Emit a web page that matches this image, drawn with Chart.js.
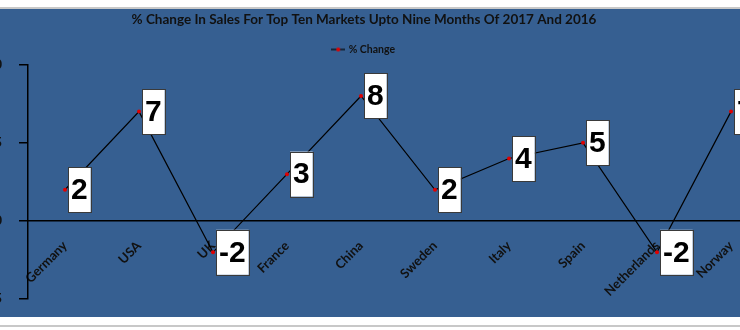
<!DOCTYPE html>
<html>
<head>
<meta charset="utf-8">
<script src="https://cdn.jsdelivr.net/npm/chart.js@4.4.1/dist/chart.umd.min.js"></script>
<style>
  body { margin: 0; background: #fff; width: 740px; height: 330px; overflow: hidden; position: relative; }
  #topline { position: absolute; left: 0; top: 7px; width: 740px; height: 2px; background: #c8c8c8; }
  #panel { position: absolute; left: 0; top: 9px; width: 740px; height: 308px; background: #365F91; overflow: hidden; }
  #myChart { position: absolute; left: -40px; top: 0; }
  #botline { position: absolute; left: 0; top: 325px; width: 740px; height: 2px; background: #c8c8c8; }
</style>
</head>
<body>
<div id="topline"></div>
<div id="panel"><canvas id="myChart" width="820" height="315"></canvas></div>
<div id="botline"></div>
<script>
// data
var markets = ['Germany', 'USA', 'UK', 'France', 'China', 'Sweden', 'Italy', 'Spain', 'Netherlands', 'Norway'];
var pctChange = [2, 7, -2, 3, 8, 2, 4, 5, -2, 7];
var yTicks = [-5, 0, 5, 10];

// little line + red dot for the legend
var marker = document.createElement('canvas');
marker.width = 14; marker.height = 6;
var mctx = marker.getContext('2d');
mctx.strokeStyle = '#000'; mctx.lineWidth = 1.2;
mctx.beginPath(); mctx.moveTo(0, 3); mctx.lineTo(14, 3); mctx.stroke();
mctx.fillStyle = '#e00000';
mctx.beginPath(); mctx.arc(7, 3, 2, 0, Math.PI * 2); mctx.fill();

// white boxed value labels to the right of each point
var boxLabels = {
    id: 'boxLabels',
    afterDatasetsDraw: function(chart) {
        var ctx = chart.ctx;
        var meta = chart.getDatasetMeta(0);
        ctx.save();
        ctx.font = 'bold 30px "Liberation Sans", Arial, sans-serif';
        ctx.textBaseline = 'middle';
        meta.data.forEach(function(pt, i) {
            var txt = String(pctChange[i]);
            var w = ctx.measureText(txt).width + 6;
            var h = 45;
            var x = pt.x + 3, y = pt.y - h / 2;
            ctx.fillStyle = '#fff';
            ctx.fillRect(x, y, w, h);
            ctx.strokeStyle = '#3a3a3a';
            ctx.lineWidth = 1;
            ctx.strokeRect(Math.round(x) + 0.5, Math.round(y) + 0.5, Math.round(w), h);
            ctx.fillStyle = '#000';
            ctx.textAlign = 'center';
            ctx.fillText(txt, x + w / 2, pt.y + 1);
        });
        ctx.restore();
    }
};

Chart.defaults.color = '#111';
Chart.defaults.font.family = 'Lato, "Open Sans", sans-serif';

var ctx1 = document.getElementById('myChart').getContext('2d');
var myChart = new Chart(ctx1, {
    type: 'line',
    data: {
        labels: markets,
        datasets: [{
            label: '% Change',
            data: pctChange,
            borderColor: '#000',
            borderWidth: 1.2,
            tension: 0,
            pointRadius: 2,
            pointBorderWidth: 0,
            pointBackgroundColor: '#e00000',
            clip: false
        }]
    },
    options: {
        responsive: false,
        animation: false,
        events: [],
        layout: { padding: { top: 0, right: 12, bottom: 0, left: 0 } },
        scales: {
            x: {
                position: { y: 0 },
                offset: true,
                grid: { display: false, drawTicks: false },
                border: { display: true, color: '#000', width: 1.5 },
                ticks: {
                    color: '#111',
                    font: { size: 13, weight: 'bold' },
                    minRotation: 45,
                    maxRotation: 45,
                    autoSkip: false,
                    padding: 17
                },
                afterFit: function(scale) { scale.height = 0; }
            },
            y: {
                min: -5,
                max: 10,
                afterBuildTicks: function(scale) {
                    scale.ticks = yTicks.map(function(v) { return { value: v }; });
                },
                grid: { drawOnChartArea: false, drawTicks: true, tickLength: 9, color: '#000', lineWidth: 1.5 },
                border: { display: true, color: '#000', width: 1.5 },
                ticks: {
                    color: '#111',
                    font: { size: 13, weight: 'bold' },
                    padding: 17
                },
                afterFit: function(scale) { scale.width = 68; }
            }
        },
        plugins: {
            title: {
                display: true,
                text: '% Change In Sales For Top Ten Markets Upto Nine Months Of 2017 And 2016',
                color: '#111',
                font: { size: 13.5, weight: 'bold' },
                padding: { top: 3, bottom: 6 }
            },
            legend: {
                position: 'top',
                labels: {
                    color: '#111',
                    font: { size: 10.5, weight: 'bold' },
                    usePointStyle: true,
                    padding: 10,
                    generateLabels: function(chart) {
                        return [{
                            text: '% Change',
                            pointStyle: marker,
                            fontColor: '#111',
                            datasetIndex: 0,
                            lineWidth: 0
                        }];
                    }
                }
            },
            tooltip: { enabled: false }
        }
    },
    plugins: [boxLabels]
});
</script>
</body>
</html>
